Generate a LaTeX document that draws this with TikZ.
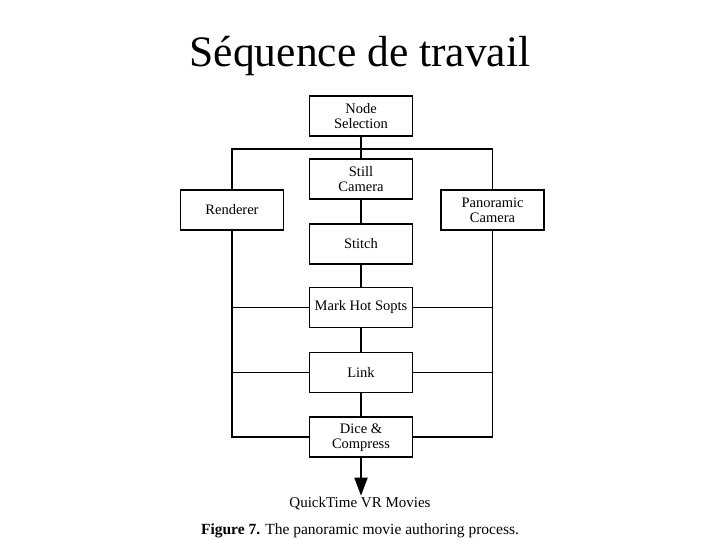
\documentclass[tikz,border=0pt]{standalone}
\usepackage{fontspec}
\setmainfont{Liberation Serif}
\usepackage{tikz}
\usetikzlibrary{positioning}
\usetikzlibrary{calc}
\usetikzlibrary{arrows.meta}

\begin{document}
\begin{tikzpicture}[x=1pt,y=-1pt,line width=1.8pt,
    stepbox/.style={draw,rectangle,minimum width=103pt,minimum height=40pt,inner sep=1pt,
        align=center,font=\fontsize{14.5}{15}\selectfont}]
    \useasboundingbox (0,0) rectangle (720,540);

    % the title
    \node[anchor=base,font=\fontsize{43.5}{46}\selectfont] (title) at (360,67) {Séquence de travail};

    % the boxes of the main chain
    \node[stepbox] (nodeSel) at (361,116) {Node\\Selection};
    \node[stepbox] (stillCam) at (361,179) {Still\\Camera};
    \node[stepbox] (stitch) at (361,244) {Stitch};
    \node[stepbox] (markHot) at (361,307.5) {Mark Hot Sopts};
    \node[stepbox] (link) at (361,372.5) {Link};
    \node[stepbox] (dice) at (361,437.3) {Dice \&\\Compress};

    % the two side boxes
    \node[stepbox] (renderer) at (232,210) {Renderer};
    \node[stepbox] (panoCam) at (492.5,210) {Panoramic\\Camera};

    % the output and caption
    \node[font=\fontsize{15}{16}\selectfont,inner sep=1pt] (movies) at (360,504) {QuickTime VR Movies};
    \node[font=\fontsize{15.5}{16}\selectfont] (caption) at (360,531) {\textbf{Figure 7.} The panoramic movie authoring process.};

    % the connectors
    \coordinate (busTop) at (361,149);
    \draw (nodeSel) -- (stillCam);
    \draw (stillCam) -- (stitch);
    \draw (stitch) -- (markHot);
    \draw (markHot) -- (link);
    \draw (link) -- (dice);
    \draw (renderer.north) |- (busTop) -| (panoCam.north);
    \draw (renderer.south) |- (dice.west);
    \draw (panoCam.south) |- (dice.east);
    \draw (markHot.west) -- (markHot.west -| renderer.south);
    \draw (link.west) -- (link.west -| renderer.south);
    \draw (markHot.east) -- (markHot.east -| panoCam.south);
    \draw (link.east) -- (link.east -| panoCam.south);
    \draw[-{Triangle[width=13pt,length=18pt]}] (dice.south) -- (dice.south |- movies.north);
\end{tikzpicture}
\end{document}
